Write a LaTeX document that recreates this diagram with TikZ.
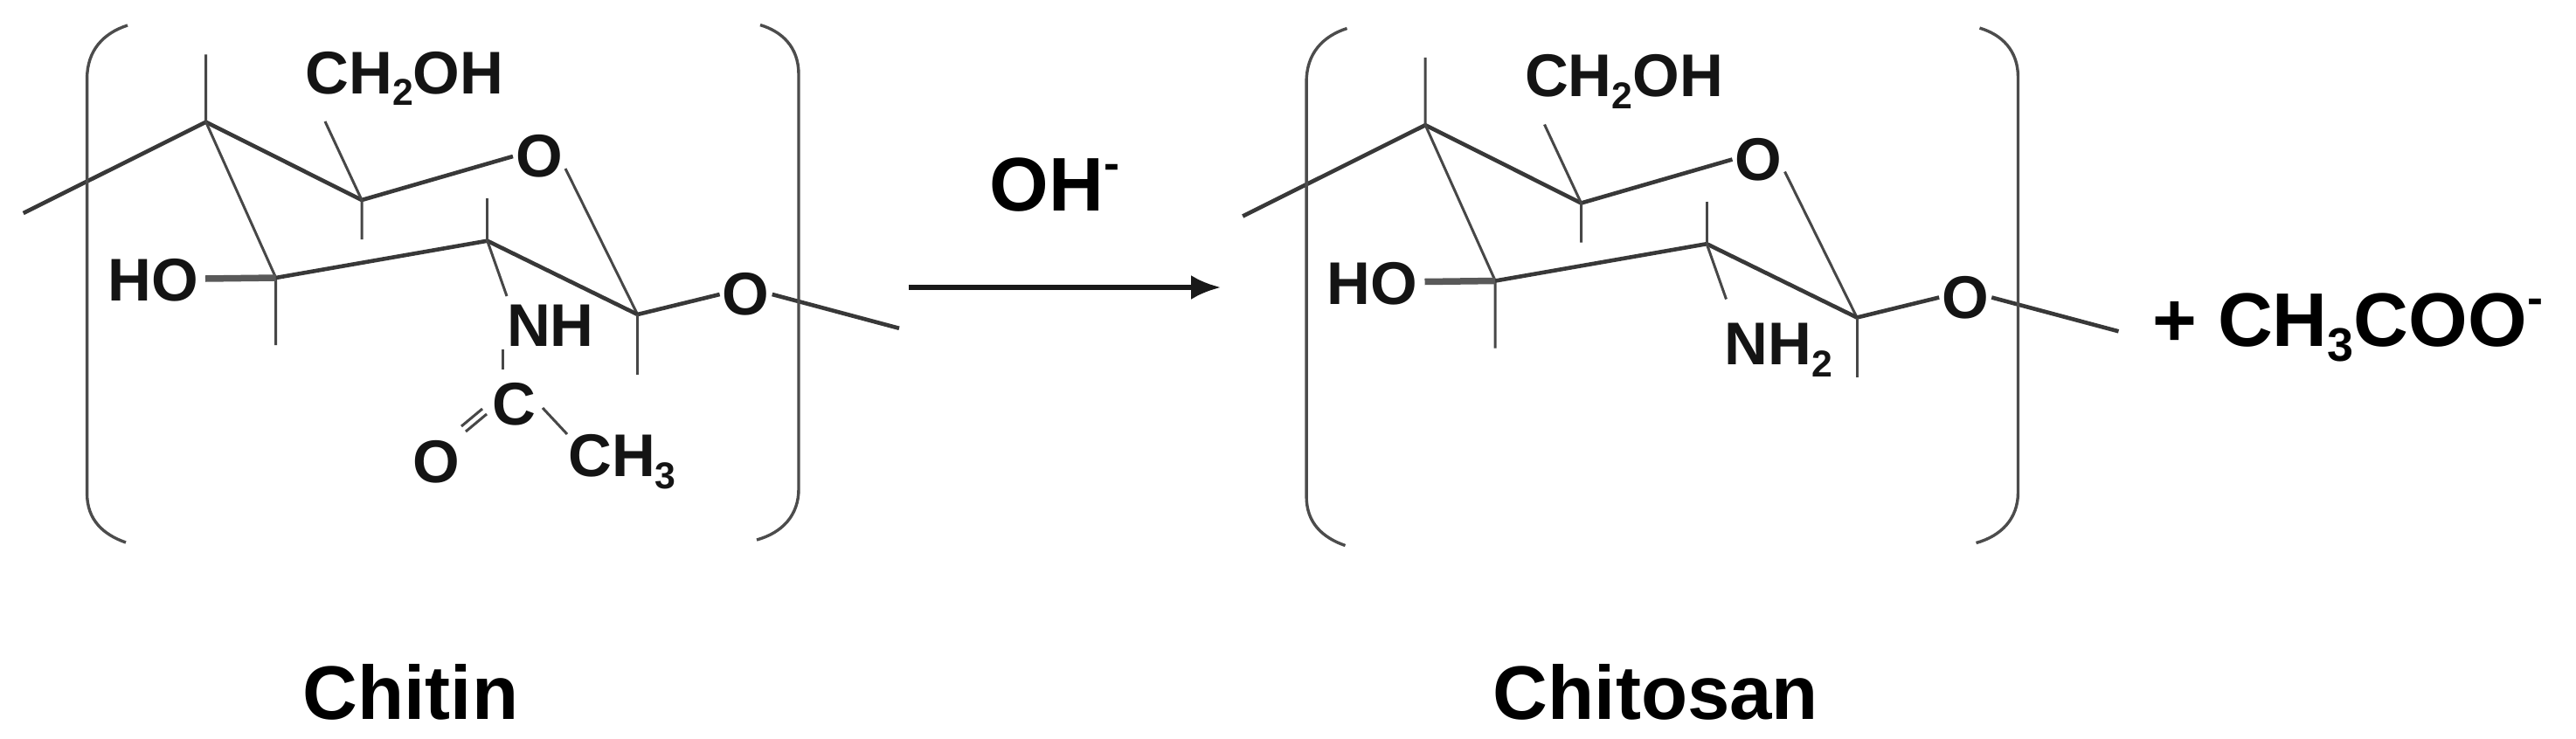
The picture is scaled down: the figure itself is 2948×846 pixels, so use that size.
\documentclass[tikz,border=0pt]{standalone}
\usepackage{fontspec}
\usetikzlibrary{arrows.meta}
\setmainfont{Liberation Sans}
\newcommand{\lowsub}[1]{\raisebox{-0.2em}{\fontsize{0.62em}{0.62em}\selectfont #1}}
\newcommand{\highsup}[1]{\raisebox{0.42em}{\fontsize{0.62em}{0.62em}\selectfont #1}}
\tikzset{
  x=1pt, y=-1pt,
  atomlabel/.style={font=\fontsize{69}{69}\selectfont\bfseries, text=black!92, inner sep=3pt},
  biglabel/.style={font=\fontsize{87}{87}\selectfont\bfseries, text=black, inner sep=0pt},
  bondthick/.style={draw=black!78, line width=4.6pt},
  bondthin/.style={draw=black!72, line width=3pt},
  hobond/.style={draw=black!65, line width=7.5pt},
  bracketline/.style={draw=black!70, line width=3.4pt},
}
\newcommand{\ringunit}{%
  \coordinate (c5) at (235.7,139.7);
  \coordinate (c5up) at (235.7,62.3);
  \coordinate (leftend) at (26.7,244);
  \coordinate (c3) at (315.7,318);
  \coordinate (c3down) at (315.7,395);
  \coordinate (c4) at (414,229);
  \coordinate (c4down) at (414,274);
  \coordinate (c4up) at (372,139);
  \coordinate (c2) at (557.7,275.7);
  \coordinate (c2up) at (557.7,227);
  \coordinate (c1) at (729.6,360);
  \coordinate (c1down) at (729.6,428.5);
  \coordinate (rightend) at (1029,375.8);
  \coordinate (hostart) at (235,319);
  \coordinate (lt) at (146,29);
  \coordinate (lb) at (144,621);
  \coordinate (rt) at (870,28.6);
  \coordinate (rb) at (866,618);
  \node[atomlabel] (oring) at (617,179) {O};
  \node[atomlabel] (olink) at (853.7,337) {O};
  \node[atomlabel] (ho) at (175,321) {HO};
  \node[atomlabel] (ch2oh) at (463,90) {CH\lowsub{2}OH};
  \draw[bondthick] (leftend) -- (c5) -- (c4) -- (oring.west);
  \draw[bondthin] (oring.-25) -- (c1);
  \draw[bondthin] (c5up) -- (c5) -- (c3) -- (c3down);
  \draw[bondthick] (c3) -- (c2) -- (c1) -- (olink.west);
  \draw[bondthick] (olink.east) -- (rightend);
  \draw[bondthin] (c4up) -- (c4) -- (c4down);
  \draw[bondthin] (c2up) -- (c2);
  \draw[bondthin] (c1) -- (c1down);
  \draw[hobond] (hostart) -- (c3);
  \draw[bracketline] (lt) .. controls (118,38) and (99.6,58) .. (99.6,90)
     -- (99.6,565) .. controls (99.6,595) and (118,612) .. (lb);
  \draw[bracketline] (rt) .. controls (895,36) and (914,54) .. (914,85)
     -- (914,560) .. controls (914,590) and (895,610) .. (rb);
}
\begin{document}
\begin{tikzpicture}
\useasboundingbox (0,0) rectangle (2948,846);
\begin{scope}[name prefix=a-]
  \ringunit
  \node[atomlabel] (nh) at (630,373) {NH};
  \node[atomlabel] (carb) at (588,463) {C};
  \node[atomlabel] (ox) at (499,529) {O};
  \node[atomlabel] (ch3) at (712,529) {CH\lowsub{3}};
  \coordinate (nhbond) at (580,339);
  \coordinate (nb1) at (575,400);
  \coordinate (nb2) at (575,423);
  \coordinate (db1) at (528,488);
  \coordinate (db2) at (552,468);
  \coordinate (db3) at (533,494);
  \coordinate (db4) at (557,474);
  \coordinate (cb1) at (621,467);
  \coordinate (cb2) at (649,497);
  \draw[bondthin] (c2) -- (nhbond);
  \draw[bondthin] (nb1) -- (nb2);
  \draw[bondthin] (db1) -- (db2);
  \draw[bondthin] (db3) -- (db4);
  \draw[bondthin] (cb1) -- (cb2);
\end{scope}
\begin{scope}[name prefix=b-, shift={(1395.5,3.5)}]
  \ringunit
  \node[atomlabel] (nh2) at (640,397) {NH\lowsub{2}};
  \coordinate (nh2bond) at (580,339);
  \draw[bondthin] (c2) -- (nh2bond);
\end{scope}
\coordinate (arrowstart) at (1040,329);
\coordinate (arrowend) at (1397,329);
\draw[draw=black!90, line width=5.5pt, -{Latex[length=34pt,width=28pt]}] (arrowstart) -- (arrowend);
\node[biglabel] (oh) at (1207,212) {OH\highsup{-}};
\node[biglabel] (chitin) at (470,792) {Chitin};
\node[biglabel] (chitosan) at (1895,792) {Chitosan};
\node[biglabel, anchor=west] (acetate) at (2463,375) {+ CH\lowsub{3}COO\highsup{-}};
\end{tikzpicture}
\end{document}
